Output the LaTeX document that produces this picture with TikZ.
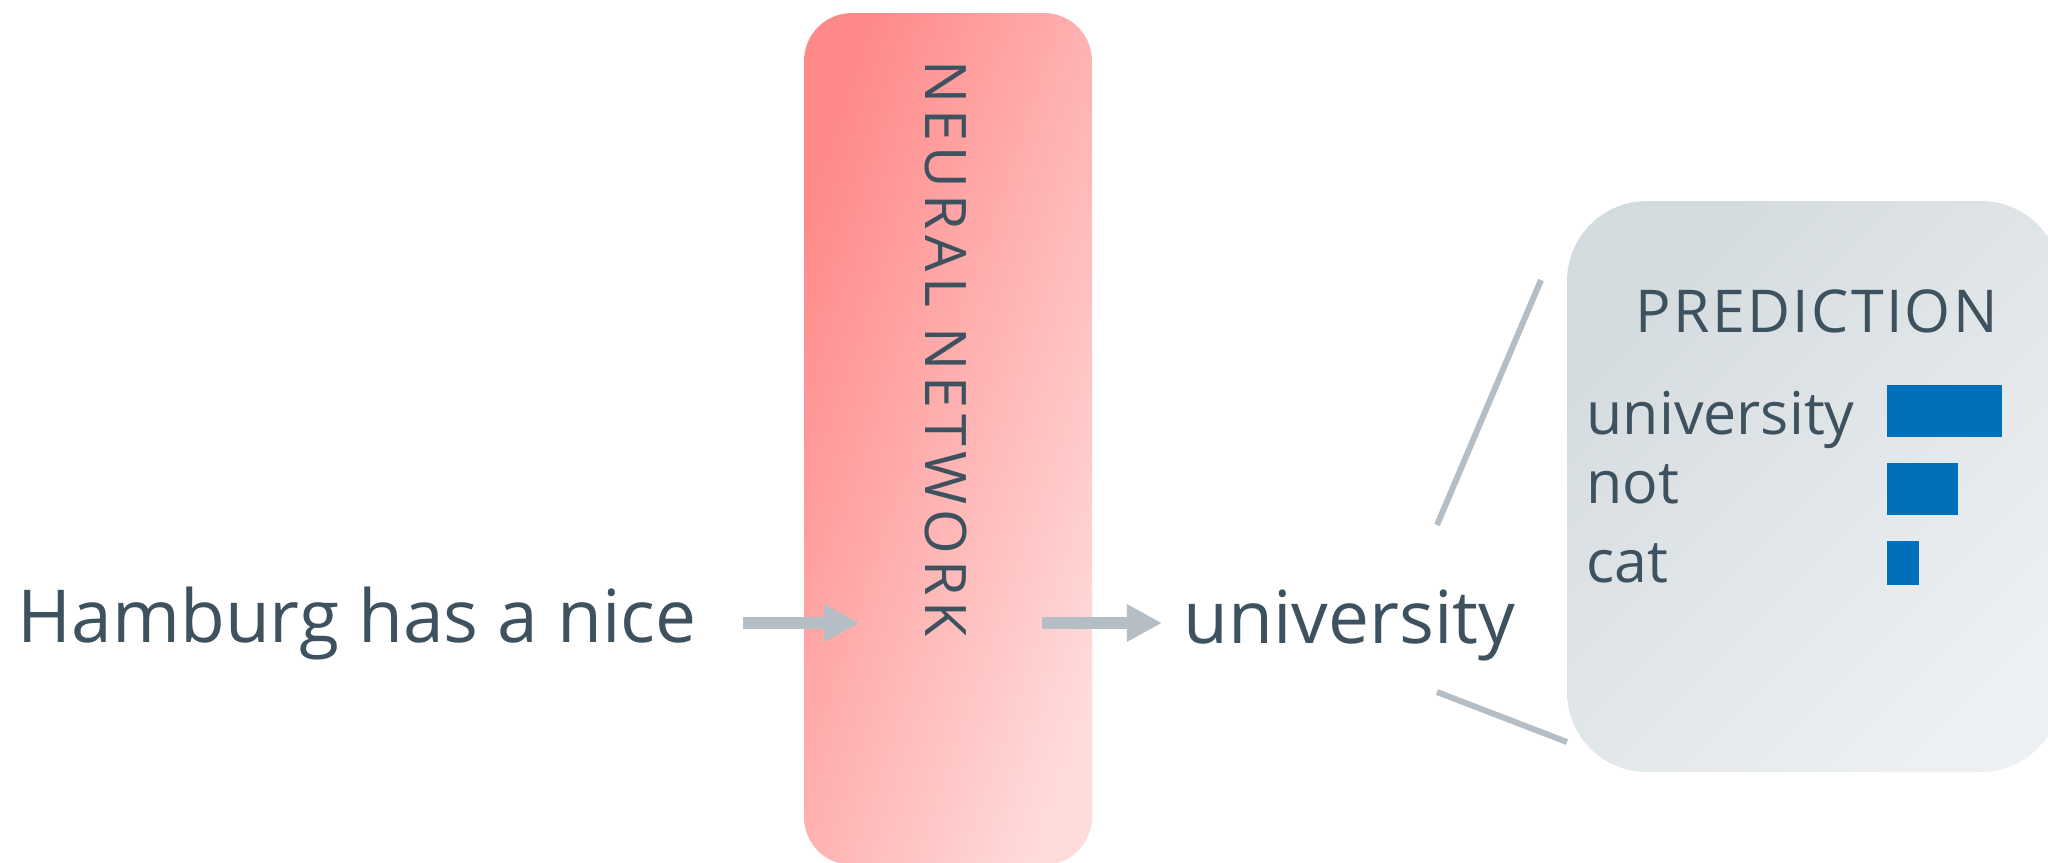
\documentclass[tikz,border=0pt]{standalone}
\usepackage{fontspec}
\setmainfont{Open Sans}
\usetikzlibrary{arrows.meta}

\definecolor{inkslate}{RGB}{61,82,94}
\definecolor{netdark}{RGB}{255,136,136}
\definecolor{netlight}{RGB}{255,219,219}
\definecolor{predtop}{RGB}{212,219,223}
\definecolor{predbottom}{RGB}{237,240,242}
\definecolor{flowgrey}{RGB}{181,190,196}
\definecolor{barblue}{RGB}{0,112,186}

\begin{document}
\begin{tikzpicture}[
        word/.style = {inner sep = 0, text = inkslate, font = \fontsize{20.8}{24}\selectfont},
        small word/.style = {inner sep = 0, text = inkslate, font = \fontsize{16.8}{20}\selectfont},
        flow/.style = {flowgrey, line width = 3.4pt, -{Triangle[length = 10pt, width = 10pt]}},
        callout/.style = {flowgrey, line width = 1.7pt},
    ]
            \useasboundingbox (0, 0) rectangle (20.48, -8.62);

            \coordinate (net_c) at (9.48, -4.39);
            \coordinate (pred_c) at (18.14, -4.865);
            \coordinate (in_base) at (0.17, -6.42);
            \coordinate (out_base) at (11.83, -6.43);

            \coordinate (callout_a) at (14.37, -5.25);
            \coordinate (callout_b) at (15.41, -2.80);
            \coordinate (callout_c) at (14.37, -6.92);
            \coordinate (callout_d) at (15.67, -7.42);

            % the two shaded boxes
            \node[draw = none, rounded corners = 0.48cm, minimum width = 2.88cm, minimum height = 8.52cm,
                  top color = netdark, bottom color = netlight, shading angle = 71] (net) at (net_c) {};
            \node[draw = none, rounded corners = 0.8cm, minimum width = 4.94cm, minimum height = 5.71cm,
                  top color = predtop, bottom color = predbottom, shading angle = 45] (pred) at (pred_c) {};

            \node[inner sep = 0, text = inkslate, rotate = -90,
                  font = \fontsize{16.3}{20}\selectfont\addfontfeature{LetterSpace = 10}] (net_label) at (9.46, -3.485) {NEURAL NETWORK};

            \node[word, anchor = base west] (input) at (in_base) {Hamburg has a nice};
            \node[word, anchor = base west] (output) at (out_base) {university};

            \draw[flow] ([xshift = 4.6mm]input.east) -- ([xshift = 5.6mm]net.west |- input.east);
            \draw[flow] ([xshift = -5.1mm]net.east |- input.east) -- ([xshift = -2.1mm]output.west |- input.east);

            \draw[callout] (callout_a) -- (callout_b);
            \draw[callout] (callout_c) -- (callout_d);

            \node[inner sep = 0, text = inkslate, anchor = base,
                  font = \fontsize{16.8}{20}\selectfont\addfontfeature{LetterSpace = 4}] (pred_title) at (18.165, -3.32) {PREDICTION};

            \node[small word, anchor = base west] (cand_a) at (15.86, -4.34) {university};
            \node[small word, anchor = base west] (cand_b) at (15.86, -5.03) {not};
            \node[small word, anchor = base west] (cand_c) at (15.86, -5.82) {cat};

            \foreach \top/\bot/\len in {3.85/4.37/20.02, 4.63/5.15/19.58, 5.41/5.85/19.19}
                \fill[barblue] (18.87, -\top) rectangle (\len, -\bot);
        \end{tikzpicture}
\end{document}
